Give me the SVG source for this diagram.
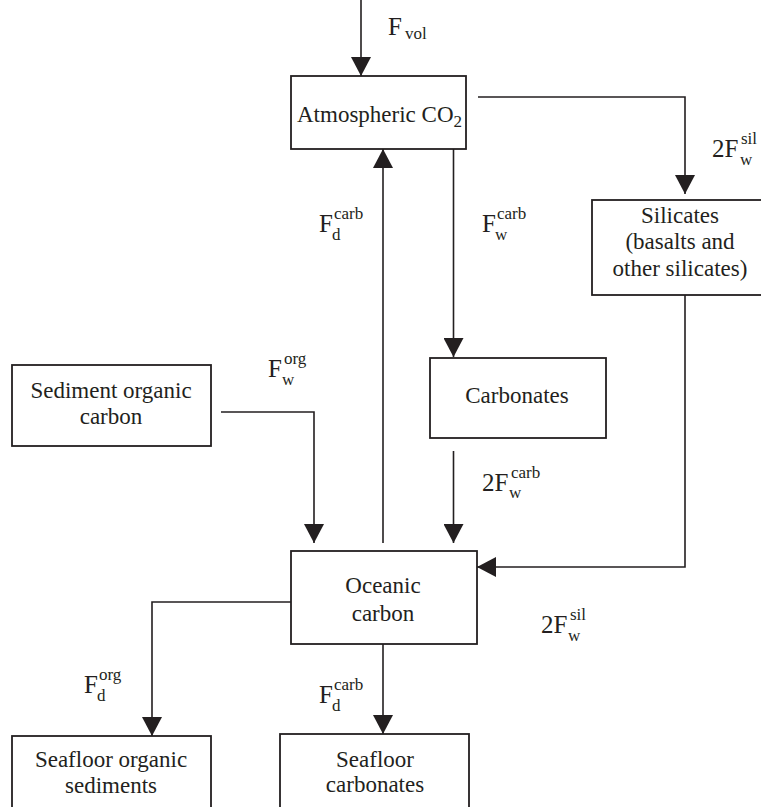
<svg xmlns="http://www.w3.org/2000/svg" width="761" height="807" viewBox="0 0 761 807">
<style>
.box{fill:#fff;stroke:#231f20;stroke-width:1.8}
.c{fill:none;stroke:#231f20;stroke-width:1.6}
text{font-family:"Liberation Serif","Times New Roman",Times,serif;fill:#231f20}
.t{font-size:23px}
.m{text-anchor:middle}
.l{font-size:25px}
.s{font-size:17px}
</style>
<defs>
<marker id="ah" viewBox="0 0 19 20" refX="19" refY="10" markerWidth="19" markerHeight="20" markerUnits="userSpaceOnUse" orient="auto">
<path d="M0,0 L19,10 L0,20 z" fill="#231f20"/>
</marker>
</defs>
<rect width="761" height="807" fill="#fff"/>
<g id="connectors">
<path class="c" d="M361,0 V76" marker-end="url(#ah)"/>
<path class="c" d="M478,97 H685 V194" marker-end="url(#ah)"/>
<path class="c" d="M383,543 V149" marker-end="url(#ah)"/>
<path class="c" d="M453.5,149 V357" marker-end="url(#ah)"/>
<path class="c" d="M453.5,451 V543" marker-end="url(#ah)"/>
<path class="c" d="M221,412 H314 V543" marker-end="url(#ah)"/>
<path class="c" d="M685,295 V567 H477" marker-end="url(#ah)"/>
<path class="c" d="M291,602 H152 V736" marker-end="url(#ah)"/>
<path class="c" d="M383,644 V734" marker-end="url(#ah)"/>
</g>
<g id="labels">
<text class="l" x="388" y="35">F<tspan class="s" x="405" y="39">vol</tspan></text>
<text class="l" x="319" y="232">F<tspan class="s" x="334" y="219">carb</tspan><tspan class="s" x="332" y="240">d</tspan></text>
<text class="l" x="482" y="232">F<tspan class="s" x="497" y="219">carb</tspan><tspan class="s" x="495" y="240">w</tspan></text>
<text class="l" x="712" y="157">2F<tspan class="s" x="741" y="144">sil</tspan><tspan class="s" x="740" y="165">w</tspan></text>
<text class="l" x="268" y="377">F<tspan class="s" x="284" y="364">org</tspan><tspan class="s" x="282" y="385">w</tspan></text>
<text class="l" x="482" y="491">2F<tspan class="s" x="511" y="478">carb</tspan><tspan class="s" x="509" y="498">w</tspan></text>
<text class="l" x="541" y="633">2F<tspan class="s" x="570" y="620">sil</tspan><tspan class="s" x="568" y="641">w</tspan></text>
<text class="l" x="84" y="693">F<tspan class="s" x="99" y="680">org</tspan><tspan class="s" x="97" y="701">d</tspan></text>
<text class="l" x="319" y="703">F<tspan class="s" x="334" y="690">carb</tspan><tspan class="s" x="332" y="711">d</tspan></text>
</g>
<g id="atmospheric">
<rect class="box" x="291" y="76" width="175" height="73"/>
<text class="t" x="297" y="122">Atmospheric CO<tspan class="s" dy="5">2</tspan></text>
</g>
<g id="silicates">
<rect class="box" x="592" y="200" width="180" height="95"/>
<text class="t m" x="680" y="223">Silicates</text>
<text class="t m" x="680" y="249">(basalts and</text>
<text class="t m" x="680" y="276">other silicates)</text>
</g>
<g id="sediment-organic">
<rect class="box" x="12" y="365" width="199" height="81"/>
<text class="t m" x="111" y="398">Sediment organic</text>
<text class="t m" x="111" y="424">carbon</text>
</g>
<g id="carbonates">
<rect class="box" x="430" y="358" width="176" height="80"/>
<text class="t m" x="517" y="403">Carbonates</text>
</g>
<g id="oceanic">
<rect class="box" x="291" y="551" width="186" height="93"/>
<text class="t m" x="383" y="593">Oceanic</text>
<text class="t m" x="383" y="621">carbon</text>
</g>
<g id="seafloor-organic">
<rect class="box" x="12" y="736" width="199" height="80"/>
<text class="t m" x="111" y="767">Seafloor organic</text>
<text class="t m" x="111" y="793">sediments</text>
</g>
<g id="seafloor-carbonates">
<rect class="box" x="280" y="734" width="189" height="80"/>
<text class="t m" x="375" y="767">Seafloor</text>
<text class="t m" x="375" y="792">carbonates</text>
</g>
</svg>
